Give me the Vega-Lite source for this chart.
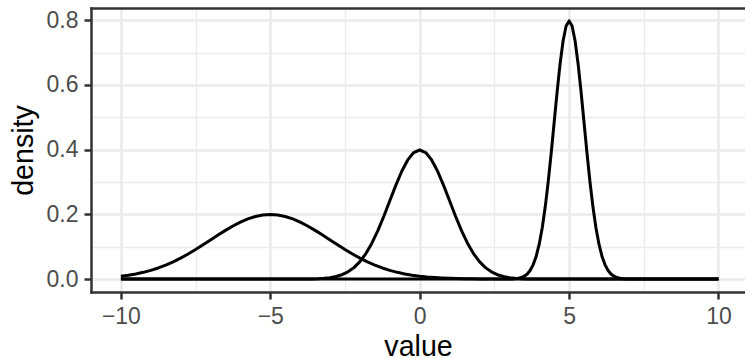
{
  "$schema": "https://vega.github.io/schema/vega-lite/v6.json",
  "width": 654,
  "height": 284,
  "autosize": {"type": "none"},
  "padding": {"left": 91, "top": 8, "right": 0, "bottom": 66},
  "background": "white",
  "config": {
    "view": {"stroke": null},
    "font": "Liberation Sans",
    "axis": {
      "labelFont": "Liberation Sans",
      "titleFont": "Liberation Sans",
      "labelColor": "#4D4D4D",
      "labelFontSize": 23,
      "titleFontSize": 28.6,
      "titleFontWeight": "normal",
      "titleColor": "#000000",
      "domainColor": "#333333",
      "domainWidth": 2.5,
      "domainCap": "square",
      "tickColor": "#333333",
      "tickWidth": 2.5,
      "tickSize": 7,
      "gridColor": "#EBEBEB",
      "labelFlush": false,
      "labelOverlap": false
    }
  },
  "data": {
    "values": [
      {"g": "A", "x": -10, "y": 0.008764},
      {"g": "A", "x": -9.75, "y": 0.011886},
      {"g": "A", "x": -9.5, "y": 0.01587},
      {"g": "A", "x": -9.25, "y": 0.020861},
      {"g": "A", "x": -9, "y": 0.026995},
      {"g": "A", "x": -8.75, "y": 0.034393},
      {"g": "A", "x": -8.5, "y": 0.043139},
      {"g": "A", "x": -8.25, "y": 0.053269},
      {"g": "A", "x": -8, "y": 0.064759},
      {"g": "A", "x": -7.75, "y": 0.077507},
      {"g": "A", "x": -7.5, "y": 0.091325},
      {"g": "A", "x": -7.25, "y": 0.105938},
      {"g": "A", "x": -7, "y": 0.120985},
      {"g": "A", "x": -6.75, "y": 0.136027},
      {"g": "A", "x": -6.5, "y": 0.150569},
      {"g": "A", "x": -6.25, "y": 0.16408},
      {"g": "A", "x": -6, "y": 0.176033},
      {"g": "A", "x": -5.75, "y": 0.185928},
      {"g": "A", "x": -5.5, "y": 0.193334},
      {"g": "A", "x": -5.25, "y": 0.197919},
      {"g": "A", "x": -5, "y": 0.199471},
      {"g": "A", "x": -4.75, "y": 0.197919},
      {"g": "A", "x": -4.5, "y": 0.193334},
      {"g": "A", "x": -4.25, "y": 0.185928},
      {"g": "A", "x": -4, "y": 0.176033},
      {"g": "A", "x": -3.75, "y": 0.16408},
      {"g": "A", "x": -3.5, "y": 0.150569},
      {"g": "A", "x": -3.25, "y": 0.136027},
      {"g": "A", "x": -3, "y": 0.120985},
      {"g": "A", "x": -2.75, "y": 0.105938},
      {"g": "A", "x": -2.5, "y": 0.091325},
      {"g": "A", "x": -2.25, "y": 0.077507},
      {"g": "A", "x": -2, "y": 0.064759},
      {"g": "A", "x": -1.75, "y": 0.053269},
      {"g": "A", "x": -1.5, "y": 0.043139},
      {"g": "A", "x": -1.25, "y": 0.034393},
      {"g": "A", "x": -1, "y": 0.026995},
      {"g": "A", "x": -0.75, "y": 0.020861},
      {"g": "A", "x": -0.5, "y": 0.01587},
      {"g": "A", "x": -0.25, "y": 0.011886},
      {"g": "A", "x": 0, "y": 0.008764},
      {"g": "A", "x": 0.25, "y": 0.006362},
      {"g": "A", "x": 0.5, "y": 0.004547},
      {"g": "A", "x": 0.75, "y": 0.003199},
      {"g": "A", "x": 1, "y": 0.002216},
      {"g": "A", "x": 1.25, "y": 0.001511},
      {"g": "A", "x": 1.5, "y": 0.001015},
      {"g": "A", "x": 1.75, "y": 0.000671},
      {"g": "A", "x": 2, "y": 0.000436},
      {"g": "A", "x": 2.5, "y": 0.000176},
      {"g": "A", "x": 3, "y": 0.000067},
      {"g": "A", "x": 10, "y": 0},

      {"g": "B", "x": -10, "y": 0},
      {"g": "B", "x": -4.5, "y": 0.000016},
      {"g": "B", "x": -4, "y": 0.000134},
      {"g": "B", "x": -3.8, "y": 0.000292},
      {"g": "B", "x": -3.6, "y": 0.000612},
      {"g": "B", "x": -3.4, "y": 0.001232},
      {"g": "B", "x": -3.2, "y": 0.002384},
      {"g": "B", "x": -3, "y": 0.004432},
      {"g": "B", "x": -2.8, "y": 0.007915},
      {"g": "B", "x": -2.6, "y": 0.013583},
      {"g": "B", "x": -2.4, "y": 0.022395},
      {"g": "B", "x": -2.2, "y": 0.035475},
      {"g": "B", "x": -2, "y": 0.053991},
      {"g": "B", "x": -1.8, "y": 0.07895},
      {"g": "B", "x": -1.6, "y": 0.110921},
      {"g": "B", "x": -1.4, "y": 0.149727},
      {"g": "B", "x": -1.2, "y": 0.194186},
      {"g": "B", "x": -1, "y": 0.241971},
      {"g": "B", "x": -0.8, "y": 0.289692},
      {"g": "B", "x": -0.6, "y": 0.333225},
      {"g": "B", "x": -0.4, "y": 0.36827},
      {"g": "B", "x": -0.2, "y": 0.391043},
      {"g": "B", "x": 0, "y": 0.398942},
      {"g": "B", "x": 0.2, "y": 0.391043},
      {"g": "B", "x": 0.4, "y": 0.36827},
      {"g": "B", "x": 0.6, "y": 0.333225},
      {"g": "B", "x": 0.8, "y": 0.289692},
      {"g": "B", "x": 1, "y": 0.241971},
      {"g": "B", "x": 1.2, "y": 0.194186},
      {"g": "B", "x": 1.4, "y": 0.149727},
      {"g": "B", "x": 1.6, "y": 0.110921},
      {"g": "B", "x": 1.8, "y": 0.07895},
      {"g": "B", "x": 2, "y": 0.053991},
      {"g": "B", "x": 2.2, "y": 0.035475},
      {"g": "B", "x": 2.4, "y": 0.022395},
      {"g": "B", "x": 2.6, "y": 0.013583},
      {"g": "B", "x": 2.8, "y": 0.007915},
      {"g": "B", "x": 3, "y": 0.004432},
      {"g": "B", "x": 3.2, "y": 0.002384},
      {"g": "B", "x": 3.4, "y": 0.001232},
      {"g": "B", "x": 3.6, "y": 0.000612},
      {"g": "B", "x": 3.8, "y": 0.000292},
      {"g": "B", "x": 4, "y": 0.000134},
      {"g": "B", "x": 4.5, "y": 0.000016},
      {"g": "B", "x": 10, "y": 0},

      {"g": "C", "x": -10, "y": 0},
      {"g": "C", "x": 2.8, "y": 0.00005},
      {"g": "C", "x": 3, "y": 0.000267},
      {"g": "C", "x": 3.1, "y": 0.000584},
      {"g": "C", "x": 3.2, "y": 0.001224},
      {"g": "C", "x": 3.3, "y": 0.002465},
      {"g": "C", "x": 3.4, "y": 0.004768},
      {"g": "C", "x": 3.5, "y": 0.008864},
      {"g": "C", "x": 3.6, "y": 0.015831},
      {"g": "C", "x": 3.7, "y": 0.027166},
      {"g": "C", "x": 3.8, "y": 0.044789},
      {"g": "C", "x": 3.9, "y": 0.070949},
      {"g": "C", "x": 4, "y": 0.107982},
      {"g": "C", "x": 4.1, "y": 0.1579},
      {"g": "C", "x": 4.2, "y": 0.221842},
      {"g": "C", "x": 4.3, "y": 0.299455},
      {"g": "C", "x": 4.4, "y": 0.388372},
      {"g": "C", "x": 4.5, "y": 0.483941},
      {"g": "C", "x": 4.6, "y": 0.579383},
      {"g": "C", "x": 4.7, "y": 0.666449},
      {"g": "C", "x": 4.8, "y": 0.73654},
      {"g": "C", "x": 4.9, "y": 0.782085},
      {"g": "C", "x": 5, "y": 0.797885},
      {"g": "C", "x": 5.1, "y": 0.782085},
      {"g": "C", "x": 5.2, "y": 0.73654},
      {"g": "C", "x": 5.3, "y": 0.666449},
      {"g": "C", "x": 5.4, "y": 0.579383},
      {"g": "C", "x": 5.5, "y": 0.483941},
      {"g": "C", "x": 5.6, "y": 0.388372},
      {"g": "C", "x": 5.7, "y": 0.299455},
      {"g": "C", "x": 5.8, "y": 0.221842},
      {"g": "C", "x": 5.9, "y": 0.1579},
      {"g": "C", "x": 6, "y": 0.107982},
      {"g": "C", "x": 6.1, "y": 0.070949},
      {"g": "C", "x": 6.2, "y": 0.044789},
      {"g": "C", "x": 6.3, "y": 0.027166},
      {"g": "C", "x": 6.4, "y": 0.015831},
      {"g": "C", "x": 6.5, "y": 0.008864},
      {"g": "C", "x": 6.6, "y": 0.004768},
      {"g": "C", "x": 6.7, "y": 0.002465},
      {"g": "C", "x": 6.8, "y": 0.001224},
      {"g": "C", "x": 6.9, "y": 0.000584},
      {"g": "C", "x": 7, "y": 0.000267},
      {"g": "C", "x": 7.2, "y": 0.00005},
      {"g": "C", "x": 10, "y": 0}
    ]
  },
  "layer": [
    {
      "mark": {"type": "line", "color": "#000000", "strokeWidth": 3, "strokeJoin": "round", "clip": true},
      "encoding": {
        "x": {
          "field": "x", "type": "quantitative",
          "scale": {"domain": [-11, 10.887], "nice": false, "zero": false},
          "axis": {
            "orient": "bottom", "values": [-10, -5, 0, 5, 10],
            "grid": true, "gridWidth": 2.6,
            "labelPadding": 6, "title": "value", "titlePadding": 4
          }
        },
        "y": {
          "field": "y", "type": "quantitative",
          "scale": {"domain": [-0.0399, 0.8378], "nice": false, "zero": false},
          "axis": {
            "orient": "left", "values": [0, 0.2, 0.4, 0.6, 0.8], "format": ".1f",
            "grid": true, "gridWidth": 2.6,
            "labelPadding": 6, "title": "density", "titlePadding": 8
          }
        },
        "detail": {"field": "g"}
      }
    },
    {
      "mark": {"type": "line", "strokeOpacity": 0},
      "encoding": {
        "x": {
          "field": "x", "type": "quantitative",
          "axis": {
            "orient": "top", "values": [-7.5, -2.5, 2.5, 7.5],
            "grid": true, "gridWidth": 1.3,
            "ticks": false, "labels": false, "domain": true, "title": null
          }
        },
        "y": {
          "field": "y", "type": "quantitative",
          "axis": {
            "orient": "right", "values": [0.1, 0.3, 0.5, 0.7],
            "grid": true, "gridWidth": 1.3,
            "ticks": false, "labels": false, "domain": false, "title": null
          }
        },
        "detail": {"field": "g"}
      }
    }
  ],
  "resolve": {"axis": {"x": "independent", "y": "independent"}}
}
